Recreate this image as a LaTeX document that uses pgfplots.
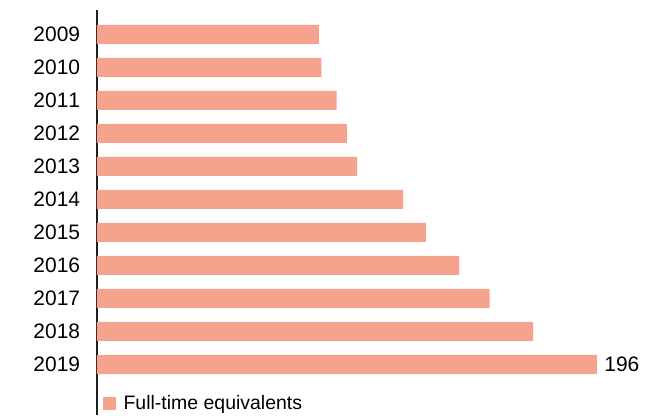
\documentclass[border=0pt]{standalone}
\usepackage{pgfplots}
\pgfplotsset{compat=1.18}
\usepackage{fontspec}
\setmainfont{Liberation Sans}[Kerning=Off]
\definecolor{barc}{RGB}{245,163,140}
\definecolor{axc}{RGB}{30,30,30}
\begin{document}
\begin{tikzpicture}
\useasboundingbox (0,0) rectangle (498pt,311.25pt);
\begin{axis}[
  at={(72.75pt,0pt)}, anchor=south west,
  scale only axis,
  width=420.75pt, height=303.75pt,
  xmin=0, xmax=220,
  ymin=-0.74, ymax=11.53,
  y dir=reverse,
  axis x line=none,
  axis y line=left,
  y axis line style={-, draw=axc, line width=1.1pt},
  ytick={0,...,10},
  yticklabels={2009,2010,2011,2012,2013,2014,2015,2016,2017,2018,2019},
  major tick length=0pt,
  yticklabel style={font=\fontsize{15.7}{18}\selectfont, text=black, inner sep=0pt, xshift=-12.5pt},
  /pgf/number format/assume math mode=true,
  legend style={at={(rel axis cs:0,0)}, anchor=south west, xshift=4.5pt, yshift=0.5pt,
    draw=none, fill=none, font=\fontsize{14.6}{16}\selectfont, inner sep=0pt,
    legend cell align=left},
  legend image code/.code={\fill[barc] (0pt,-4.9pt) rectangle (9.75pt,4.9pt);},
  clip=false,
]
\addplot[xbar, bar shift=0pt, bar width=14.25pt, fill=barc, draw=none]
coordinates {(87,0) (88,1) (94,2) (98,3) (102,4) (120,5) (129,6) (142,7) (154,8) (171,9) (196,10)};
\addlegendentry{\hspace{3.5pt}Full-time equivalents}
\addplot[draw=none, mark=none, point meta=x, nodes near coords,
  nodes near coords style={anchor=west, xshift=5.5pt, font=\fontsize{15.7}{18}\selectfont, text=black, inner sep=0pt},
  forget plot]
coordinates {(196,10)};
\end{axis}
\end{tikzpicture}
\end{document}
